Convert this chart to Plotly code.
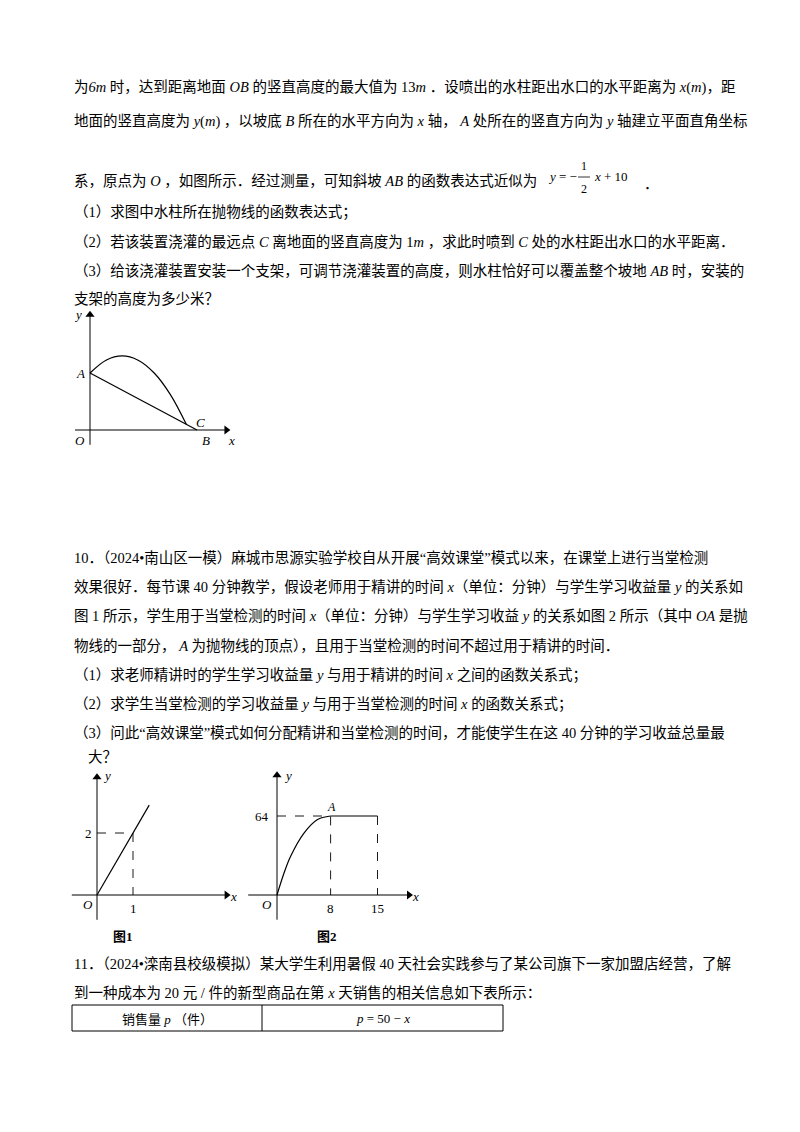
import plotly.graph_objects as go

W, H = 800, 1132
OFF = 8  # page body margin compensation
FONT = "Liberation Serif, Noto Sans CJK SC"

# ---- data ----
slope_x = [0, 20]; slope_y = [10, 0]
jet_x = [0, 3, 6, 9, 12, 15, 18]; jet_y = [10, 12.25, 13, 12.25, 10, 6.25, 1]
f1_x = [0, 1.45]; f1_y = [0, 2.9]
f1_pt = (1, 2)
f2_curve_x = [0, 1, 2, 4, 6, 8]; f2_curve_y = [0, 17, 31, 50, 61, 64]
f2_flat_x = [8, 15]; f2_flat_y = [64, 64]
f2_ticks = [8, 15]

def px(x): return (x - OFF) / W
def py(y): return 1 - (y - OFF) / H

fig = go.Figure()
lay = dict(width=W, height=H, margin=dict(l=0, r=0, t=0, b=0), paper_bgcolor="white",
           plot_bgcolor="rgba(0,0,0,0)", showlegend=False)

def axes(i, l, r, t, b, ox, oy, sx, sy):
    xr = [(l - ox) / sx, (r - ox) / sx]
    yr = [(oy - b) / sy, (oy - t) / sy]
    sfx = "" if i == 1 else str(i)
    lay["xaxis" + sfx] = dict(domain=[px(l), px(r)], range=xr, visible=False, fixedrange=True)
    lay["yaxis" + sfx] = dict(domain=[py(b), py(t)], range=yr, visible=False, fixedrange=True,
                              anchor="x" + sfx)
    return "x" + sfx, "y" + sfx

def line(xa, ya, xs, ys, dash="solid", w=1.2, spline=False):
    fig.add_trace(go.Scatter(x=xs, y=ys, xaxis=xa, yaxis=ya, mode="lines",
                             line=dict(color="black", width=w, dash=dash,
                                       shape="spline" if spline else "linear"),
                             hoverinfo="skip"))

def arrows(xa, ya, x0, x1, y0, y1):
    line(xa, ya, [x0, x1], [0, 0], w=1)
    line(xa, ya, [0, 0], [y0, y1], w=1)
    fig.add_trace(go.Scatter(x=[x1, 0], y=[0, y1], xaxis=xa, yaxis=ya, mode="markers",
                             marker=dict(symbol=["triangle-right", "triangle-up"], size=8, color="black"),
                             hoverinfo="skip"))

annots = []
def txt(x, y, s, size=14.5, xa="paper", ya="paper", anchor="left", italic=False):
    if xa == "paper":
        x, y = px(x), py(y)
    annots.append(dict(x=x, y=y, xref=xa, yref=ya, text=("<i>%s</i>" % s) if italic else s,
                       showarrow=False, xanchor=anchor, yanchor="middle",
                       font=dict(family=FONT, size=size, color="black")))

# Top figure
xa, ya = axes(1, 70, 235, 310, 450, 90, 430, 5.35, 5.7)
arrows(xa, ya, -2.8, 25.5, -2.6, 20.2)
line(xa, ya, slope_x, slope_y)
line(xa, ya, jet_x, jet_y, spline=True)
for s, x, y in [("y", -2.2, 20.2), ("A", -1.8, 10), ("O", -1.8, -1.8), ("B", 21.6, -1.9),
                ("C", 20.6, 1.4), ("x", 26.4, -1.9)]:
    txt(x, y, s, 13, xa, ya, "center", True)

# Fig 1
xa, ya = axes(2, 60, 240, 765, 925, 97, 895, 36, 31)
arrows(xa, ya, -0.7, 3.6, -0.8, 3.8)
line(xa, ya, f1_x, f1_y)
line(xa, ya, [0, f1_pt[0], f1_pt[0]], [f1_pt[1], f1_pt[1], 0], dash="dash", w=0.9)
txt(0.28, 3.85, "y", 13, xa, ya, "center", True)
txt(-0.25, 2, "2", 13, xa, ya, "center")
txt(1, -0.42, "1", 13, xa, ya, "center")
txt(-0.25, -0.32, "O", 13, xa, ya, "center", True)
txt(3.8, -0.05, "x", 13, xa, ya, "center", True)

# Fig 2
xa, ya = axes(3, 240, 420, 765, 925, 277, 895, 6.7, 79 / 64)
arrows(xa, ya, -4.3, 19.7, -20, 97)
line(xa, ya, f2_curve_x, f2_curve_y, spline=True)
line(xa, ya, f2_flat_x, f2_flat_y)
line(xa, ya, [0, 8, 8], [64, 64, 0], dash="dash", w=0.9)
line(xa, ya, [15, 15], [64, 0], dash="dash", w=0.9)
txt(1.6, 97, "y", 13, xa, ya, "center", True)
txt(-2.2, 64, "64", 13, xa, ya, "center")
txt(8.2, 71, "A", 12, xa, ya, "center", True)
txt(-1.5, -8, "O", 13, xa, ya, "center", True)
for t in f2_ticks:
    txt(t, -11, str(t), 13, xa, ya, "center")
txt(20.6, -1, "x", 13, xa, ya, "center", True)

# Text
L = 72
txt(L, 87, "为<i>6m</i> 时，达到距离地面 <i>OB</i> 的竖直高度的最大值为 13<i>m</i> ．设喷出的水柱距出水口的水平距离为 <i>x</i>(<i>m</i>)，距")
txt(L, 121, "地面的竖直高度为 <i>y</i>(<i>m</i>) ，以坡底 <i>B</i> 所在的水平方向为 <i>x</i> 轴， <i>A</i> 处所在的竖直方向为 <i>y</i> 轴建立平面直角坐标")
txt(L, 181, "系，原点为 <i>O</i> ，如图所示．经过测量，可知斜坡 <i>AB</i> 的函数表达式近似为")
txt(546, 177, "<i>y</i> = −", 13); txt(584, 166, "1", 12, anchor="center"); txt(584, 189, "2", 12, anchor="center")
txt(592, 177, "<i>x</i> + 10", 13); txt(642, 184, "．")
txt(L, 213, "（1）求图中水柱所在抛物线的函数表达式；")
txt(L, 242, "（2）若该装置浇灌的最远点 <i>C</i> 离地面的竖直高度为 1<i>m</i> ，求此时喷到 <i>C</i> 处的水柱距出水口的水平距离．")
txt(L, 271, "（3）给该浇灌装置安装一个支架，可调节浇灌装置的高度，则水柱恰好可以覆盖整个坡地 <i>AB</i> 时，安装的")
txt(L, 299, "支架的高度为多少米？")

txt(L, 558, "10．（2024•南山区一模）麻城市思源实验学校自从开展“高效课堂”模式以来，在课堂上进行当堂检测")
txt(L, 587, "效果很好．每节课 40 分钟教学，假设老师用于精讲的时间 <i>x</i>（单位：分钟）与学生学习收益量 <i>y</i> 的关系如")
txt(L, 616, "图 1 所示，学生用于当堂检测的时间 <i>x</i>（单位：分钟）与学生学习收益 <i>y</i> 的关系如图 2 所示（其中 <i>OA</i> 是抛")
txt(L, 646, "物线的一部分， <i>A</i> 为抛物线的顶点），且用于当堂检测的时间不超过用于精讲的时间．")
txt(L, 675, "（1）求老师精讲时的学生学习收益量 <i>y</i> 与用于精讲的时间 <i>x</i> 之间的函数关系式；")
txt(L, 704, "（2）求学生当堂检测的学习收益量 <i>y</i> 与用于当堂检测的时间 <i>x</i> 的函数关系式；")
txt(L, 733, "（3）问此“高效课堂”模式如何分配精讲和当堂检测的时间，才能使学生在这 40 分钟的学习收益总量最")
txt(86, 757, "大？")
txt(123, 936, "<b>图1</b>", 13, anchor="center")
txt(327, 936, "<b>图2</b>", 13, anchor="center")
txt(L, 964, "11．（2024•滦南县校级模拟）某大学生利用暑假 40 天社会实践参与了某公司旗下一家加盟店经营，了解")
txt(L, 992, "到一种成本为 20 元 / 件的新型商品在第 <i>x</i> 天销售的相关信息如下表所示：")
txt(167, 1019, "销售量 <i>p</i> （件）", 13, anchor="center")
txt(383, 1018, "<i>p</i> = 50 − <i>x</i>", 13, anchor="center")

shapes = [dict(type="rect", xref="paper", yref="paper", x0=px(72), x1=px(503), y0=py(1031), y1=py(1005),
               line=dict(color="black", width=1)),
          dict(type="line", xref="paper", yref="paper", x0=px(262), x1=px(262), y0=py(1031), y1=py(1005),
               line=dict(color="black", width=1)),
          dict(type="line", xref="paper", yref="paper", x0=px(578), x1=px(590), y0=py(177), y1=py(177),
               line=dict(color="black", width=0.8))]
lay["annotations"] = annots
lay["shapes"] = shapes
fig.update_layout(**lay)
fig.write_html("out.html")
